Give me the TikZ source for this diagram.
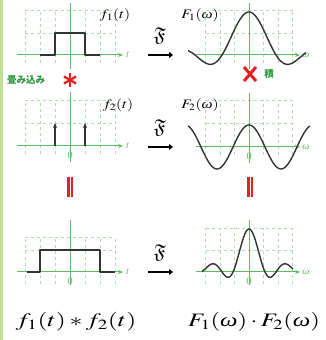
\documentclass[tikz,border=0pt]{standalone}
\usepackage{mathptmx}
\usepackage{amssymb}
\usepackage{fontspec}
\setmainfont{Liberation Serif}
\newfontfamily\jpfont{Noto Sans CJK JP}
\usetikzlibrary{arrows.meta,calc}
\definecolor{axisgreen}{RGB}{95,185,95}
\definecolor{gridgreen}{RGB}{175,222,175}
\definecolor{markred}{RGB}{228,32,32}
\definecolor{textgreen}{RGB}{40,150,60}
\definecolor{edgegreen}{RGB}{192,224,150}
\newcommand{\wide}[1]{\scalebox{1.2}[1]{#1}}
\newcommand{\wider}[1]{\scalebox{1.36}[1]{#1}}
\newcommand{\om}{\mbox{\itshape ω}}

\begin{document}
\begin{tikzpicture}[x=1pt, y=1pt,
	grid/.style={draw=gridgreen, dashed, line width=0.5pt},
	axis/.style={draw=axisgreen, line width=1pt, -{Stealth[length=5pt,width=4pt]}},
	vaxis/.style={draw=axisgreen, line width=1pt},
	curve/.style={draw=black!80, line width=1.4pt, line join=round},
	fname/.style={font=\fontsize{13}{13}\selectfont, inner sep=0pt},
	alabel/.style={text=axisgreen, font=\fontsize{10}{10}\selectfont, inner sep=0pt},
	fourier/.style={line width=2.6pt, -{Triangle[length=4pt,width=6pt]}},
	pair/.style={draw=markred, line width=2.2pt},
	result/.style={font=\fontsize{19}{19}\selectfont, inner sep=0pt},
	jp/.style={text=textgreen, font=\jpfont\bfseries\fontsize{9.5}{9.5}\selectfont, inner sep=0pt},
]
\useasboundingbox (0,0) rectangle (326,340);
\fill[edgegreen] (0,0) rectangle (3,340);

% time side
\begin{scope}[shift={(70,285)}]
	\foreach \gx in {-45,-30,...,45} \draw[grid] (\gx,-8) -- (\gx,45);
	\draw[grid] (-45,45) -- (45,45);
	\draw[grid] (-45,22) -- (45,22);
	\draw[vaxis] (0,-14) -- (0,52);
	\draw[axis] (-53,0) -- (53,0);
	\node[alabel] (t1) at (58,0) {$t$};
	\draw[curve] (-30,0) -- (-15,0) -- (-15,22) -- (15,22) -- (15,0) -- (30,0);
	\node[fname] (f1) at (45,40) {\wide{$f_1(t)$}};
\end{scope}
\begin{scope}[shift={(70,194)}]
	\foreach \gx in {-45,-30,...,45} \draw[grid] (\gx,-8) -- (\gx,46);
	\draw[grid] (-45,46) -- (45,46);
	\draw[grid] (-45,23) -- (45,23);
	\draw[vaxis] (0,-16) -- (0,54);
	\draw[axis] (-53,0) -- (53,0);
	\node[alabel] (t2) at (58,0) {$t$};
	\node[alabel] (o2) at (0,-9) {$0$};
	\foreach \px in {-15,15}
		\draw[curve, -{Stealth[length=5pt,width=4pt]}] (\px,0) -- (\px,23);
	\node[fname] (f2) at (48,41) {\wide{$f_2(t)$}};
\end{scope}
\begin{scope}[shift={(70,68)}]
	\foreach \gx in {-45,-30,...,45} \draw[grid] (\gx,-12) -- (\gx,35);
	\draw[grid] (-45,35) -- (45,35);
	\draw[grid] (-45,22) -- (45,22);
	\draw[vaxis] (0,-13) -- (0,52);
	\draw[axis] (-53,0) -- (53,0);
	\node[alabel] (t3) at (58,0) {$t$};
	\node[alabel] (o3) at (0,-9) {$0$};
	\draw[curve] (-43,0) -- (-30,0) -- (-30,22) -- (30,22) -- (30,0) -- (45,0);
\end{scope}

% frequency side
\begin{scope}[shift={(249,285)}]
	\foreach \gx in {-43.5,-29,...,43.5} \draw[grid] (\gx,-8) -- (\gx,45);
	\draw[grid] (-43.5,45) -- (43.5,45);
	\draw[grid] (-43.5,22) -- (43.5,22);
	\draw[vaxis] (0,-14) -- (0,52);
	\draw[axis] (-53,0) -- (51,0);
	\node[alabel] (w1) at (57,0) {\om};
	\draw[curve, domain=-61:57, samples=120, smooth]
		plot (\x, {43*sin(\x/27*180)/(pi*\x/27)});
	\node[fname] (F1) at (-49,40) {\wide{$F_1(\om)$}};
\end{scope}
\begin{scope}[shift={(249,193)}]
	\foreach \gx in {-43.5,-29,...,43.5} \draw[grid] (\gx,-8) -- (\gx,47);
	\draw[grid] (-43.5,47) -- (43.5,47);
	\draw[grid] (-43.5,24) -- (43.5,24);
	\draw[vaxis] (0,-16) -- (0,54);
	\draw[axis] (-53,0) -- (51,0);
	\node[alabel] (w2) at (57,0) {\om};
	\node[alabel] (o5) at (0,-9) {$0$};
	\draw[curve, domain=-61:61, samples=120, smooth]
		plot (\x, {22*cos(\x/64*360)});
	\node[fname] (F2) at (-49,42) {\wide{$F_2(\om)$}};
\end{scope}
\begin{scope}[shift={(249,68)}]
	\foreach \gx in {-43.5,-29,...,43.5} \draw[grid] (\gx,-12) -- (\gx,44);
	\draw[grid] (-43.5,44) -- (43.5,44);
	\draw[grid] (-43.5,22) -- (43.5,22);
	\draw[vaxis] (0,-13) -- (0,52);
	\draw[axis] (-53,0) -- (51,0);
	\node[alabel] (w3) at (57,0) {\om};
	\node[alabel] (o6) at (0,-9) {$0$};
	\draw[curve, domain=-47:44, samples=120, smooth]
		plot (\x, {43*sin(\x/27*180)/(pi*\x/27)*cos(\x/64*360)});
\end{scope}

% Fourier transform arrows
\foreach \row/\yy in {1/285,2/193,3/68} {
	\node[font=\fontsize{20}{20}\selectfont, inner sep=0pt] (four\row) at (160,\yy+19) {$\mathfrak{F}$};
	\coordinate (fa\row) at (148,\yy);
	\coordinate (fb\row) at (173,\yy);
	\draw[fourier] (fa\row) -- (fb\row);
}

% operations
\node[jp] (conv) at (26,260) {畳み込み};
\coordinate (star) at (70,260);
\foreach \ang in {90,30,150}
	\draw[draw=markred, line width=2.3pt] ($(star)+(\ang:7)$) -- ($(star)+(\ang+180:7)$);
\coordinate (cross) at (250,266);
\draw[draw=markred, line width=3pt] ($(cross)+(-6,7)$) -- ($(cross)+(6,-7)$);
\draw[draw=markred, line width=3pt] ($(cross)+(-6,-7)$) -- ($(cross)+(6,7)$);
\node[jp] (prod) at (269,266) {積};
\foreach \cx in {70,250} {
	\draw[pair] (\cx-1.6,143) -- (\cx-1.6,163);
	\draw[pair] (\cx+1.6,143) -- (\cx+1.6,163);
}

% results
\node[result] (conres) at (76,18) {\wider{$f_1(t)*f_2(t)$}};
\node[result] (prodres) at (254,18) {\scalebox{1.3}[1]{$F_1(\om)\cdot F_2(\om)$}};
\end{tikzpicture}
\end{document}
